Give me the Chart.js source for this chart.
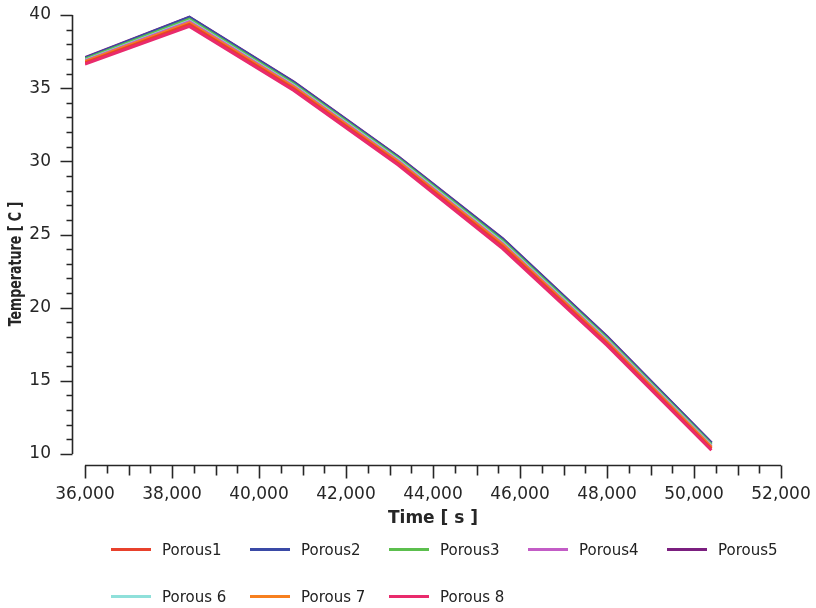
<!DOCTYPE html>
<html>
<head>
<meta charset="utf-8">
<script src="https://cdn.jsdelivr.net/npm/chart.js@4/dist/chart.umd.min.js"></script>
<style>
  html, body { margin: 0; padding: 0; background: #fff; }
  #wrap { position: relative; width: 816px; height: 608px; overflow: hidden; }
  #box { position: absolute; left: 0; top: 0; width: 816px; height: 535px; }
  #legend { position: absolute; left: 0; top: 0; width: 816px; height: 608px; pointer-events: none;
            font: 15px "DejaVu Sans", sans-serif; color: #222; }
  .item { position: absolute; height: 20px; }
  .swatch { position: absolute; left: 0; top: 8px; width: 40px; height: 3px; }
  .label { position: absolute; left: 51px; top: 0; line-height: 20px; white-space: nowrap; }
</style>
</head>
<body>
<div id="wrap">
  <div id="box"><canvas id="c"></canvas></div>
  <div id="legend"></div>
</div>
<script>
// Monitor points: temperature history of the porous zones
const timeSeconds = [36000, 38400, 40800, 43200, 45600, 48000, 50400];

const porous1 = [36.73, 39.35, 34.96, 29.86, 24.18, 17.54, 10.36];
const porous2 = [37.06, 39.83, 35.39, 30.29, 24.69, 17.99, 10.74];
const porous3 = [36.98, 39.72, 35.29, 30.19, 24.57, 17.89, 10.65];
const porous4 = [36.86, 39.54, 35.13, 30.03, 24.38, 17.72, 10.51];
const porous5 = [37.08, 39.86, 35.42, 30.32, 24.72, 18.02, 10.76];
const porous6 = [36.90, 39.60, 35.19, 30.09, 24.45, 17.78, 10.56];
const porous7 = [36.81, 39.46, 35.06, 29.96, 24.30, 17.65, 10.45];
const porous8 = [36.64, 39.22, 34.84, 29.74, 24.04, 17.42, 10.26];

const seriesNames  = ['Porous1', 'Porous2', 'Porous3', 'Porous4', 'Porous5', 'Porous 6', 'Porous 7', 'Porous 8'];
const seriesValues = [porous1, porous2, porous3, porous4, porous5, porous6, porous7, porous8];
const seriesColors = ['#e8412c', '#3a4aa6', '#5cbf4e', '#c35cc6', '#7b1f7f', '#8fe0da', '#f7801f', '#e92a6c'];
// lower value = painted later (on top)
const paintOrder   = [2, 7, 6, 4, 8, 5, 3, 1];

const xTickValues = [36000, 38000, 40000, 42000, 44000, 46000, 48000, 50000, 52000];
const yTickValues = [10, 15, 20, 25, 30, 35, 40];

const FONT = '"DejaVu Sans", sans-serif';
const INK = '#262626';

// Detached axis lines with major/minor tick marks, plus the vertical axis title
const axisFrame = {
  id: 'axisFrame',
  afterDraw(chart) {
    const { ctx, chartArea, scales: { x, y } } = chart;
    ctx.save();
    ctx.strokeStyle = INK;
    ctx.lineWidth = 1.6;
    ctx.lineCap = 'butt';

    const ax = chartArea.left - 12.5;
    const ay = chartArea.bottom + 11.5;

    ctx.beginPath();
    ctx.moveTo(ax, y.getPixelForValue(y.max));
    ctx.lineTo(ax, y.getPixelForValue(y.min));
    for (let v = y.min; v <= y.max; v += 1) {
      const py = Math.round(y.getPixelForValue(v)) + 0.5;
      const len = v % 5 === 0 ? 12 : 6;
      ctx.moveTo(ax, py);
      ctx.lineTo(ax - len, py);
    }
    ctx.stroke();

    ctx.beginPath();
    ctx.moveTo(x.getPixelForValue(x.min), ay);
    ctx.lineTo(x.getPixelForValue(x.max), ay);
    for (let v = x.min; v <= x.max; v += 500) {
      const px = Math.round(x.getPixelForValue(v)) + 0.5;
      const len = v % 2000 === 0 ? 13 : (v % 1000 === 0 ? 10 : 8);
      ctx.moveTo(px, ay);
      ctx.lineTo(px, ay + len);
    }
    ctx.stroke();

    ctx.translate(17, 264);
    ctx.scale(1.2, 1);
    ctx.rotate(-Math.PI / 2);
    ctx.fillStyle = INK;
    ctx.font = 'bold 14px "DejaVu Sans Condensed", "DejaVu Sans", sans-serif';
    ctx.textAlign = 'center';
    ctx.textBaseline = 'middle';
    ctx.fillText('Temperature [ C ]', 0, 0);
    ctx.restore();
  }
};

const datasets = seriesNames.map((name, i) => ({
  label: name,
  data: timeSeconds.map((t, k) => ({ x: t, y: seriesValues[i][k] })),
  borderColor: seriesColors[i],
  backgroundColor: seriesColors[i],
  borderWidth: 3,
  pointRadius: 0,
  tension: 0,
  fill: false,
  order: paintOrder[i]
}));

// invisible tick marks only reserve the gap between axis and labels
const hiddenGrid = len => ({
  display: true, drawOnChartArea: false, drawTicks: true,
  tickLength: len, tickColor: 'rgba(0,0,0,0)'
});

new Chart(document.getElementById('c'), {
  type: 'line',
  data: { datasets },
  options: {
    responsive: true,
    maintainAspectRatio: false,
    animation: false,
    events: [],
    layout: { padding: { top: 15, right: 35, left: 0, bottom: 0 } },
    plugins: { legend: { display: false }, tooltip: { enabled: false } },
    scales: {
      x: {
        type: 'linear',
        min: xTickValues[0],
        max: xTickValues[xTickValues.length - 1],
        afterBuildTicks: s => { s.ticks = xTickValues.map(v => ({ value: v })); },
        afterFit: s => { s.height = 81; },
        grid: hiddenGrid(30),
        border: { display: false },
        ticks: {
          padding: 0, color: INK, autoSkip: false, maxRotation: 0,
          font: { family: FONT, size: 17 },
          callback: v => v.toLocaleString('en-US')
        },
        title: {
          display: true, text: 'Time [ s ]', color: INK,
          font: { family: FONT, size: 17, weight: 'bold' },
          padding: { top: 0, bottom: 6 }
        }
      },
      y: {
        type: 'linear',
        min: yTickValues[0],
        max: yTickValues[yTickValues.length - 1],
        afterBuildTicks: s => { s.ticks = yTickValues.map(v => ({ value: v })); },
        afterFit: s => { s.width = 85; },
        grid: hiddenGrid(34),
        border: { display: false },
        ticks: {
          padding: 0, color: INK,
          font: { family: FONT, size: 17 }
        }
      }
    }
  },
  plugins: [axisFrame]
});

// Legend: five entries per row
const legendEl = document.getElementById('legend');
seriesNames.forEach((name, i) => {
  const col = i % 5, row = Math.floor(i / 5);
  const item = document.createElement('div');
  item.className = 'item';
  item.style.left = (111 + col * 139) + 'px';
  item.style.top = (540 + row * 47) + 'px';
  const sw = document.createElement('div');
  sw.className = 'swatch';
  sw.style.background = seriesColors[i];
  const lb = document.createElement('div');
  lb.className = 'label';
  lb.textContent = name;
  item.appendChild(sw);
  item.appendChild(lb);
  legendEl.appendChild(item);
});
</script>
</body>
</html>
